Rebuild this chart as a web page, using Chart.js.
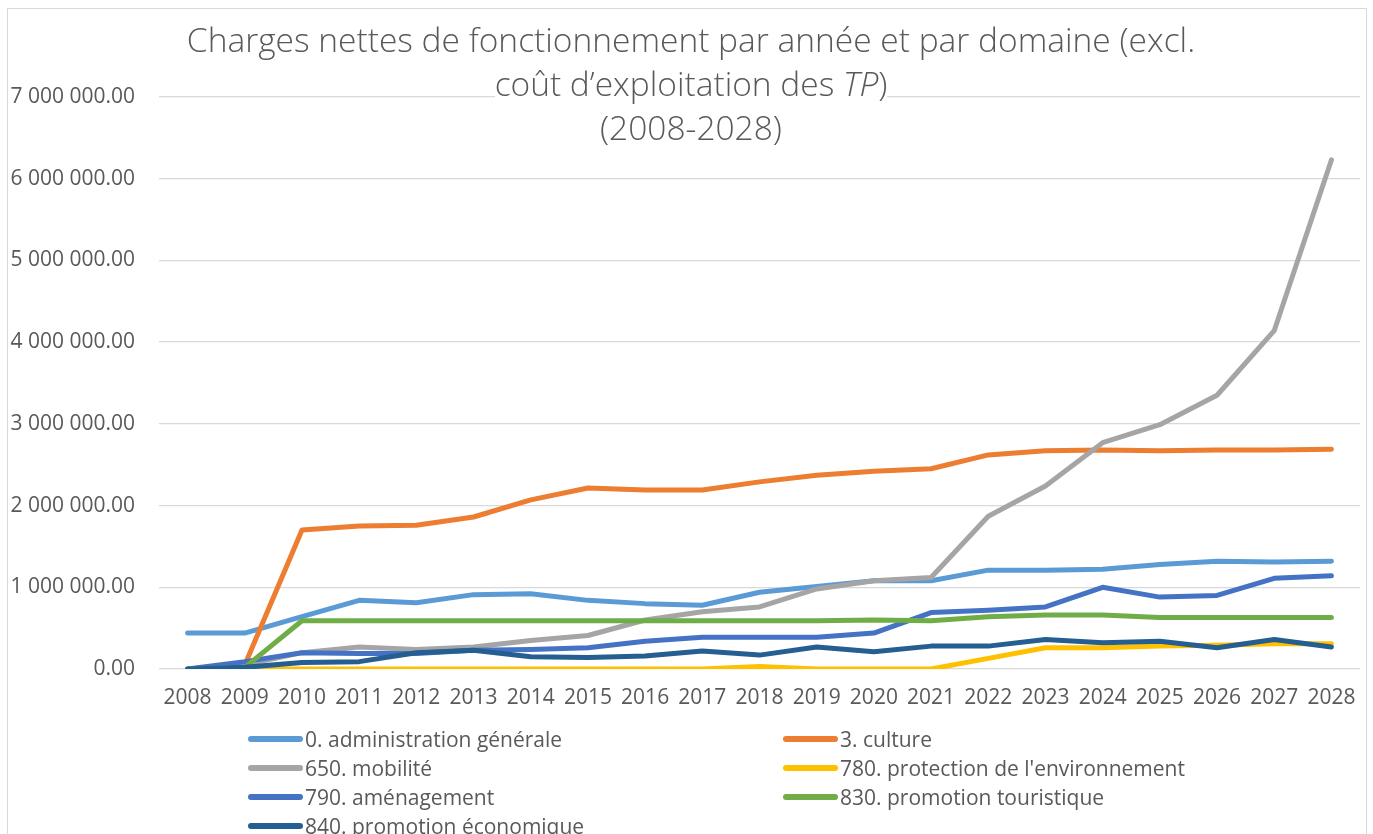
<!DOCTYPE html>
<html lang="fr">
<head>
<meta charset="utf-8">
<title>Charges nettes de fonctionnement</title>
<script src="https://cdn.jsdelivr.net/npm/chart.js@4.4.1/dist/chart.umd.min.js"></script>
<style>
  html, body { margin: 0; padding: 0; background: #fff; overflow: hidden; }
  #wrap { position: relative; width: 1373px; height: 834px; font-family: "Open Sans", sans-serif; color: #595959; }
  #frame { position: absolute; left: 7px; top: 8px; width: 1360px; height: 840px; border: 1px solid #d9d9d9; box-sizing: border-box; }
  #chart { position: absolute; left: 0; top: 0; }
  #title { position: absolute; left: 0; width: 1382px; top: 17px; text-align: center; font-size: 33.5px; font-weight: 300; line-height: 44px; }
  #title span { background: #fff; }
  #legend { position: absolute; left: 248px; top: 724px; display: grid; grid-template-columns: 535px 535px; grid-auto-rows: 29px; font-size: 21px; }
  .item { display: flex; align-items: center; white-space: nowrap; }
  .swatch { width: 55px; height: 6px; border-radius: 3px; margin-right: 2px; }
</style>
</head>
<body>
<div id="wrap">
  <div id="frame"></div>
  <canvas id="chart" width="1373" height="834"></canvas>
  <div id="title">
    <span>Charges nettes de fonctionnement par année et par domaine (excl.</span><br>
    <span>coût d’exploitation des <i>TP</i>)</span><br>
    <span>(2008-2028)</span>
  </div>
  <div id="legend"></div>
</div>
<script>
// data (CHF)
const years = ['2008','2009','2010','2011','2012','2013','2014','2015','2016','2017',
               '2018','2019','2020','2021','2022','2023','2024','2025','2026','2027','2028'];

const administration = [440000, 440000, 640000, 840000, 810000, 910000, 920000, 840000, 800000, 780000,
                        940000, 1010000, 1080000, 1080000, 1210000, 1210000, 1220000, 1280000, 1320000, 1310000, 1320000];
const culture = [0, 50000, 1700000, 1750000, 1760000, 1860000, 2070000, 2215000, 2190000, 2190000,
                 2290000, 2370000, 2420000, 2450000, 2620000, 2670000, 2680000, 2670000, 2680000, 2680000, 2690000];
const mobilite = [0, 50000, 200000, 270000, 240000, 270000, 350000, 410000, 600000, 700000,
                  760000, 980000, 1080000, 1120000, 1870000, 2240000, 2770000, 2990000, 3350000, 4140000, 6230000];
const environnement = [0, 0, 0, 0, 0, 0, 0, 0, 0, 0,
                       30000, 0, 0, 0, 130000, 260000, 260000, 280000, 290000, 310000, 310000];
const amenagement = [0, 90000, 200000, 190000, 190000, 230000, 240000, 260000, 340000, 390000,
                     390000, 390000, 440000, 690000, 720000, 760000, 1000000, 880000, 900000, 1110000, 1140000];
const touristique = [0, 20000, 590000, 590000, 590000, 590000, 590000, 590000, 590000, 590000,
                     590000, 590000, 600000, 590000, 640000, 660000, 660000, 630000, 630000, 630000, 630000];
const economique = [0, 20000, 80000, 90000, 200000, 230000, 150000, 140000, 160000, 220000,
                    170000, 270000, 210000, 280000, 280000, 360000, 320000, 340000, 260000, 360000, 270000];

const seriesNames = ['0. administration générale', '3. culture', '650. mobilité',
                     "780. protection de l'environnement", '790. aménagement',
                     '830. promotion touristique', '840. promotion économique'];
const seriesData = [administration, culture, mobilite, environnement, amenagement, touristique, economique];
const seriesColors = ['#5B9BD5', '#ED7D31', '#A5A5A5', '#FFC000', '#4472C4', '#70AD47', '#255E91'];

// "7 000 000.00" style
function formatAmount(v) {
    const parts = Number(v).toFixed(2).split('.');
    return parts[0].replace(/\B(?=(\d{3})+(?!\d))/g, ' ') + '.' + parts[1];
}

const datasets = seriesData.map((data, i) => ({
    label: seriesNames[i],
    data: data,
    borderColor: seriesColors[i],
    backgroundColor: seriesColors[i],
    borderWidth: 5,
    pointRadius: 0,
    tension: 0,
    fill: false,
    borderCapStyle: 'round',
    borderJoinStyle: 'round',
    order: seriesData.length - i   // later series on top, like Excel
}));

const tickFont = { family: 'Open Sans', size: 21 };

new Chart(document.getElementById('chart'), {
    type: 'line',
    data: { labels: years, datasets: datasets },
    options: {
        responsive: false,
        animation: false,
        layout: { padding: { top: 97, left: 0, right: 13, bottom: 115 } },
        scales: {
            x: {
                offset: true,
                grid: { display: false, drawTicks: false },
                border: { display: false },
                ticks: { color: '#595959', font: tickFont, padding: 16, maxRotation: 0, autoSkip: false },
                afterFit: scale => { scale.height = 50; }
            },
            y: {
                min: 0,
                max: 7000000,
                grid: { color: '#d9d9d9', lineWidth: 1.3, drawTicks: false },
                border: { display: false },
                ticks: {
                    stepSize: 1000000,
                    color: '#595959',
                    font: tickFont,
                    padding: 24,
                    callback: v => formatAmount(v)
                },
                afterFit: scale => { scale.width = 159; }
            }
        },
        plugins: {
            legend: { display: false },
            title: { display: false },
            tooltip: { enabled: false }
        }
    }
});

// legend in two columns, built from the same series arrays
const legendEl = document.getElementById('legend');
seriesNames.forEach((name, i) => {
    const row = `<div class="item"><span class="swatch" style="background:${seriesColors[i]}"></span><span>${name}</span></div>`;
    legendEl.insertAdjacentHTML('beforeend', row);
});
</script>
</body>
</html>
